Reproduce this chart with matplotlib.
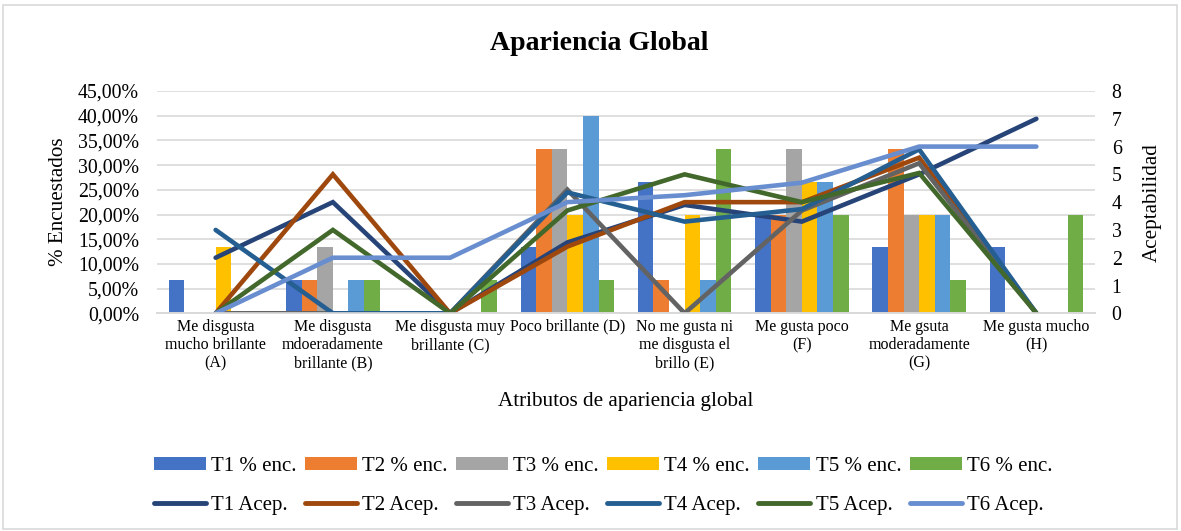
import numpy as np
import matplotlib
matplotlib.use("Agg")
import matplotlib.pyplot as plt
from matplotlib.ticker import FuncFormatter, MultipleLocator
from matplotlib.patches import Rectangle, Patch
from matplotlib.lines import Line2D

plt.rcParams["font.family"] = ["Liberation Serif", "DejaVu Serif"]

categories = [
    "Me disgusta\nmucho brillante\n(A)",
    "Me disgusta\nmdoeradamente\nbrillante (B)",
    "Me disgusta muy\nbrillante (C)",
    "Poco brillante (D)",
    "No me gusta ni\nme disgusta el\nbrillo (E)",
    "Me gusta poco\n(F)",
    "Me gsuta\nmoderadamente\n(G)",
    "Me gusta mucho\n(H)",
]

# Share of respondents per treatment (fraction)
t1_enc = [0.0667, 0.0667, 0.0, 0.1333, 0.2667, 0.20, 0.1333, 0.1333]
t2_enc = [0.0, 0.0667, 0.0, 0.3333, 0.0667, 0.20, 0.3333, 0.0]
t3_enc = [0.0, 0.1333, 0.0, 0.3333, 0.0, 0.3333, 0.20, 0.0]
t4_enc = [0.1333, 0.0, 0.0, 0.20, 0.20, 0.2667, 0.20, 0.0]
t5_enc = [0.0, 0.0667, 0.0, 0.40, 0.0667, 0.2667, 0.20, 0.0]
t6_enc = [0.0, 0.0667, 0.0667, 0.0667, 0.3333, 0.20, 0.0667, 0.20]

# Acceptability per treatment
t1_acep = [2.0, 4.0, 0.0, 2.55, 3.9, 3.3, 5.0, 7.0]
t2_acep = [0.0, 5.0, 0.0, 2.4, 4.0, 4.0, 5.6, 0.0]
t3_acep = [0.0, 0.0, 0.0, 4.45, 0.0, 3.7, 5.4, 0.0]
t4_acep = [3.0, 0.0, 0.0, 4.35, 3.3, 3.75, 5.9, 0.0]
t5_acep = [0.0, 3.0, 0.0, 3.7, 5.0, 4.0, 5.05, 0.0]
t6_acep = [0.0, 2.0, 2.0, 4.0, 4.25, 4.7, 6.0, 6.0]

bar_series = [t1_enc, t2_enc, t3_enc, t4_enc, t5_enc, t6_enc]
line_series = [t1_acep, t2_acep, t3_acep, t4_acep, t5_acep, t6_acep]
bar_labels = ["T1 % enc.", "T2 % enc.", "T3 % enc.", "T4 % enc.", "T5 % enc.", "T6 % enc."]
line_labels = ["T1 Acep.", "T2 Acep.", "T3 Acep.", "T4 Acep.", "T5 Acep.", "T6 Acep."]

bar_colors = ["#4472C4", "#ED7D31", "#A5A5A5", "#FFC000", "#5B9BD5", "#70AD47"]
line_colors = ["#264478", "#9E480E", "#636363", "#255E91", "#43682B", "#698ED0"]

fig = plt.figure(figsize=(11.81, 5.31), dpi=100)
fig.patches.append(Rectangle((3 / 1181, 2 / 531), 1174 / 1181, 524 / 531,
                             transform=fig.transFigure, fill=False,
                             edgecolor="#D9D9D9", linewidth=1.2))

ax = fig.add_axes([157 / 1181, 1 - 313.3 / 531, 938 / 1181, 222.3 / 531])
ax2 = ax.twinx()

x = np.arange(len(categories))
w = 0.133
for i, (vals, col, lab) in enumerate(zip(bar_series, bar_colors, bar_labels)):
    ax.bar(x + (i - 2.5) * w, vals, width=w, color=col, label=lab, zorder=2)

for vals, col, lab in zip(line_series, line_colors, line_labels):
    ax2.plot(x, vals, color=col, lw=3.3, label=lab,
             solid_capstyle="round", solid_joinstyle="miter")

ax.set_xlim(-0.5, len(categories) - 0.5)
ax.set_ylim(0, 0.45)
ax.yaxis.set_major_locator(MultipleLocator(0.05))
ax.yaxis.set_major_formatter(FuncFormatter(lambda v, p: f"{v * 100:.2f}".replace(".", ",") + "%"))
ax2.set_ylim(0, 8)
ax2.yaxis.set_major_locator(MultipleLocator(1))

ax.grid(axis="y", color="#D9D9D9", lw=1.2, zorder=0)
ax.set_axisbelow(True)
for a in (ax, ax2):
    for s in ("top", "left", "right"):
        a.spines[s].set_visible(False)
    a.spines["bottom"].set_color("#D9D9D9")
    a.spines["bottom"].set_linewidth(1.2)

ax.set_xticks(x)
ax.set_xticklabels(categories, fontsize=11.5, linespacing=1.2, va="top")
ax.tick_params(axis="x", length=0, pad=4)
ax.tick_params(axis="y", length=0, labelsize=14.3, pad=13)
ax2.tick_params(axis="y", length=0, labelsize=14.3, pad=12)

ax.set_xlabel("Atributos de apariencia global", fontsize=15.2, labelpad=15)
ax.set_ylabel("% Encuestados", fontsize=15.2, labelpad=7)
ax2.set_ylabel("Aceptabilidad", fontsize=15.2, labelpad=15)

fig.text(599 / 1181, 1 - 44 / 531, "Apariencia Global", ha="center", va="center",
         fontsize=20, fontweight="bold")

handles, labels = [], []
for bc, lc, bl, ll in zip(bar_colors, line_colors, bar_labels, line_labels):
    handles.append(Patch(facecolor=bc, edgecolor="none"))
    labels.append(bl)
    handles.append(Line2D([0], [0], color=lc, lw=3.5, solid_capstyle="round"))
    labels.append(ll)

fig.legend(handles, labels, ncol=6, loc="center", bbox_to_anchor=(603 / 1181, 1 - 486 / 531),
           frameon=False, fontsize=15, handlelength=2.5, handleheight=0.55,
           handletextpad=0.25, columnspacing=0.4, labelspacing=0.95)

fig.savefig("out.png", dpi=100)
